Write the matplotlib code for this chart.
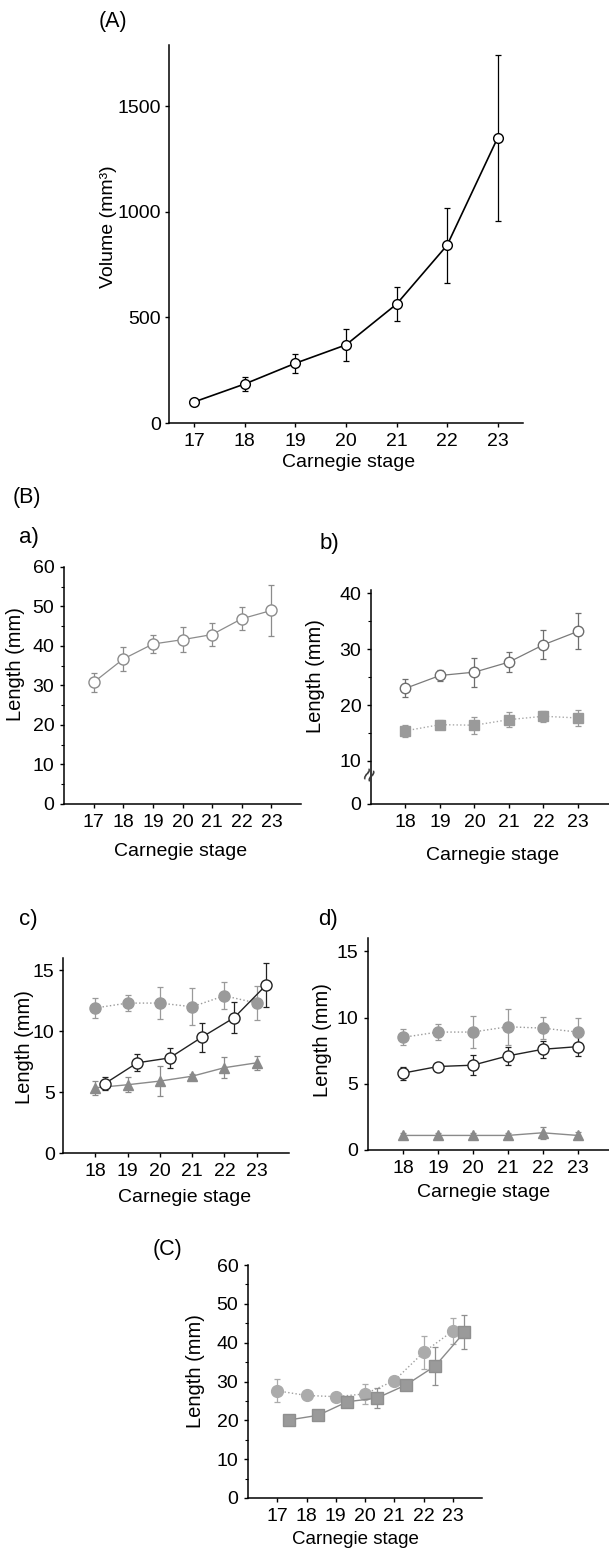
"""
plot.py
=======
Growth of the embryonic organ by Carnegie stage: (A) volume, (B) lengths of
the sub-parts (a-d), (C) comparison of two length measures.

Output:
  out.png
"""

import matplotlib
matplotlib.use("Agg")
import matplotlib.pyplot as plt
from matplotlib.ticker import MultipleLocator

plt.rcParams["font.family"] = ["Liberation Sans", "DejaVu Sans"]
plt.rcParams["font.size"] = 14

# ---- Data -------------------------------------------------------------------
STAGES = [17, 18, 19, 20, 21, 22, 23]
STAGES_B = [18, 19, 20, 21, 22, 23]

# (A) volume, mm^3
VOL_MEAN = [100, 185, 283, 370, 563, 842, 1351]
VOL_ERR = [15, 35, 45, 75, 80, 178, 393]

# (B) a)
A_MEAN = [30.8, 36.7, 40.5, 41.6, 42.9, 46.9, 49.0]
A_ERR = [2.4, 3.0, 2.3, 3.2, 2.8, 2.9, 6.5]

# (B) b)  -- open circles, grey squares
B_OPEN = [23.0, 25.3, 25.9, 27.7, 30.8, 33.2]
B_OPEN_ERR = [1.6, 1.0, 2.6, 1.8, 2.6, 3.2]
B_SQ = [15.4, 16.5, 16.4, 17.4, 18.0, 17.7]
B_SQ_ERR = [1.1, 0.8, 1.5, 1.3, 1.0, 1.5]
B_FLOOR = 2.3          # value at which the broken axis shows "0"

# (B) c)
C_GREY = [11.9, 12.3, 12.3, 12.0, 12.9, 12.3]
C_GREY_ERR = [0.8, 0.65, 1.3, 1.5, 1.1, 1.4]
C_OPEN = [5.7, 7.4, 7.8, 9.5, 11.1, 13.8]
C_OPEN_ERR = [0.5, 0.7, 0.8, 1.2, 1.25, 1.8]
C_TRI = [5.35, 5.6, 5.9, 6.3, 7.0, 7.4]
C_TRI_ERR = [0.55, 0.6, 1.2, 0.2, 0.85, 0.6]

# (B) d)
D_GREY = [8.5, 8.9, 8.9, 9.3, 9.2, 8.9]
D_GREY_ERR = [0.6, 0.6, 1.2, 1.35, 0.85, 1.1]
D_OPEN = [5.8, 6.3, 6.4, 7.1, 7.6, 7.8]
D_OPEN_ERR = [0.5, 0.25, 0.75, 0.65, 0.65, 0.7]
D_TRI = [1.1, 1.1, 1.1, 1.1, 1.3, 1.1]
D_TRI_ERR = [0.2, 0.15, 0.15, 0.2, 0.45, 0.25]

# (C)
CC_CIRC = [27.6, 26.4, 26.1, 26.8, 30.2, 37.5, 43.0]
CC_CIRC_ERR = [3.0, 0.6, 0.6, 2.6, 1.0, 4.3, 3.3]
CC_SQ = [20.1, 21.3, 24.8, 25.7, 29.1, 34.0, 42.7]
CC_SQ_ERR = [0.6, 0.8, 0.8, 2.5, 1.0, 5.0, 4.3]

W, H = 609, 1549


def axes_px(fig, left, top, right, bottom):
    """Axes placed by pixel box (left, top, right, bottom)."""
    return fig.add_axes([left / W, 1 - bottom / H,
                         (right - left) / W, (bottom - top) / H])


def style(ax):
    for s in ("top", "right"):
        ax.spines[s].set_visible(False)
    for s in ("left", "bottom"):
        ax.spines[s].set_linewidth(1.1)
    ax.tick_params(direction="out", length=3, width=1, pad=4, labelsize=14)
    ax.tick_params(which="minor", direction="out", length=2, width=0.8)


def series(ax, x, y, err, marker, face, edge, line, ls="-", ms=6.5, lw=1.0):
    ax.errorbar(x, y, yerr=err, fmt="none", ecolor=edge, elinewidth=0.9,
                capsize=2, capthick=0.9, zorder=2)
    ax.plot(x, y, ls=ls, color=line, lw=lw, marker=marker, ms=ms,
            mfc=face, mec=edge, mew=1.0, zorder=3)


def labels(ax, ylab_x, ylab_y, xlab_x, xlab_y, xsize=14):
    ax.set_ylabel("Length (mm)", fontsize=14.5)
    ax.set_xlabel("Carnegie stage", fontsize=xsize)
    ax.yaxis.set_label_coords(ylab_x, ylab_y)
    ax.xaxis.set_label_coords(xlab_x, xlab_y)


def main() -> None:
    fig = plt.figure(figsize=(W / 100, H / 100), dpi=100)

    # ---- (A) volume ---------------------------------------------------------
    ax = axes_px(fig, 169, 45, 523, 423)
    style(ax)
    series(ax, STAGES, VOL_MEAN, VOL_ERR, "o", "white", "black", "black",
           ms=7, lw=1.2)
    ax.set_xlim(16.5, 23.5)
    ax.set_ylim(0, 1790)
    ax.set_xticks(STAGES)
    ax.set_yticks([0, 500, 1000, 1500])
    ax.tick_params(axis="y", pad=3)
    ax.set_ylabel("Volume (mm³)", fontsize=14)
    ax.set_xlabel("Carnegie stage", fontsize=14)
    ax.yaxis.set_label_coords(-0.148, 0.52)
    ax.xaxis.set_label_coords(0.506, -0.082)
    fig.text(113 / W, 1 - 22 / H, "(A)", ha="center", va="center", fontsize=15.5)

    # ---- (B) a) -------------------------------------------------------------
    ax = axes_px(fig, 64, 567, 301, 804)
    style(ax)
    series(ax, STAGES, A_MEAN, A_ERR, "o", "white", "#8c8c8c", "#8c8c8c",
           ms=8, lw=0.9)
    ax.set_xlim(16, 24)
    ax.set_ylim(0, 60)
    ax.set_xticks(STAGES)
    ax.set_yticks(range(0, 61, 10))
    ax.yaxis.set_minor_locator(MultipleLocator(5))
    labels(ax, -0.165, 0.59, 0.49, -0.165)
    fig.text(27 / W, 1 - 498 / H, "(B)", ha="center", va="center", fontsize=15.5)
    fig.text(29 / W, 1 - 538 / H, "a)", ha="center", va="center", fontsize=16)

    # ---- (B) b) -- broken axis ---------------------------------------------
    ax = axes_px(fig, 371, 590, 609, 804)
    style(ax)
    series(ax, STAGES_B, B_OPEN, B_OPEN_ERR, "o", "white", "#6e6e6e",
           "#7a7a7a", ms=7.5, lw=0.9)
    series(ax, STAGES_B, B_SQ, B_SQ_ERR, "s", "#9a9a9a", "#9a9a9a",
           "#a8a8a8", ls=":", ms=7, lw=1.0)
    ax.set_xlim(17, 23.9)
    ax.set_ylim(B_FLOOR, 40.6)
    ax.set_xticks(STAGES_B)
    ax.set_yticks([B_FLOOR, 10, 20, 30, 40])
    ax.set_yticklabels(["0", "10", "20", "30", "40"])
    ax.set_yticks([15, 25, 35], minor=True)
    ax.text(0.0, 7.4, "\u2248", transform=ax.get_yaxis_transform(),
            ha="center", va="center", rotation=65, fontsize=17,
            color="#333333", clip_on=False)
    labels(ax, -0.193, 0.6, 0.51, -0.2)
    fig.text(329 / W, 1 - 543 / H, "b)", ha="center", va="center", fontsize=16)

    # ---- (B) c) -------------------------------------------------------------
    ax = axes_px(fig, 63, 958, 289, 1153)
    style(ax)
    series(ax, STAGES_B, C_GREY, C_GREY_ERR, "o", "#9a9a9a", "#9a9a9a",
           "#9a9a9a", ls=":", ms=8)
    series(ax, STAGES_B, C_TRI, C_TRI_ERR, "^", "#8a8a8a", "#8a8a8a",
           "#8a8a8a", ms=7.5)
    series(ax, [s + 0.3 for s in STAGES_B], C_OPEN, C_OPEN_ERR, "o", "white",
           "#222222", "#222222", ms=8)
    ax.set_xlim(17, 24)
    ax.set_ylim(0, 16)
    ax.set_xticks(STAGES_B)
    ax.set_yticks([0, 5, 10, 15])
    ax.tick_params(axis="y", pad=3)
    labels(ax, -0.13, 0.545, 0.54, -0.187)
    fig.text(28 / W, 1 - 920 / H, "c)", ha="center", va="center", fontsize=16)

    # ---- (B) d) -------------------------------------------------------------
    ax = axes_px(fig, 368, 938, 609, 1150)
    style(ax)
    series(ax, STAGES_B, D_GREY, D_GREY_ERR, "o", "#9a9a9a", "#9a9a9a",
           "#9a9a9a", ls=":", ms=8)
    series(ax, STAGES_B, D_OPEN, D_OPEN_ERR, "o", "white", "#222222",
           "#222222", ms=8)
    series(ax, STAGES_B, D_TRI, D_TRI_ERR, "^", "#8a8a8a", "#8a8a8a",
           "#8a8a8a", ms=7.5)
    ax.set_xlim(17, 23.9)
    ax.set_ylim(0, 16)
    ax.set_xticks(STAGES_B)
    ax.set_yticks([0, 5, 10, 15])
    labels(ax, -0.149, 0.52, 0.48, -0.16)
    fig.text(328 / W, 1 - 920 / H, "d)", ha="center", va="center", fontsize=16)

    # ---- (C) ----------------------------------------------------------------
    ax = axes_px(fig, 248, 1265, 482, 1498)
    style(ax)
    series(ax, STAGES, CC_CIRC, CC_CIRC_ERR, "o", "#ababab", "#ababab",
           "#a0a0a0", ls=":", ms=8.5)
    series(ax, [s + 0.4 for s in STAGES], CC_SQ, CC_SQ_ERR, "s", "#9a9a9a",
           "#8f8f8f", "#8a8a8a", ms=8.5)
    ax.set_xlim(16, 24)
    ax.set_ylim(0, 60)
    ax.set_xticks(STAGES)
    ax.set_yticks(range(0, 61, 10))
    ax.yaxis.set_minor_locator(MultipleLocator(5))
    labels(ax, -0.184, 0.546, 0.46, -0.14, xsize=13.5)
    fig.text(168 / W, 1 - 1250 / H, "(C)", ha="center", va="center",
             fontsize=15.5)

    fig.savefig("out.png", dpi=100)
    plt.close(fig)


if __name__ == "__main__":
    main()
